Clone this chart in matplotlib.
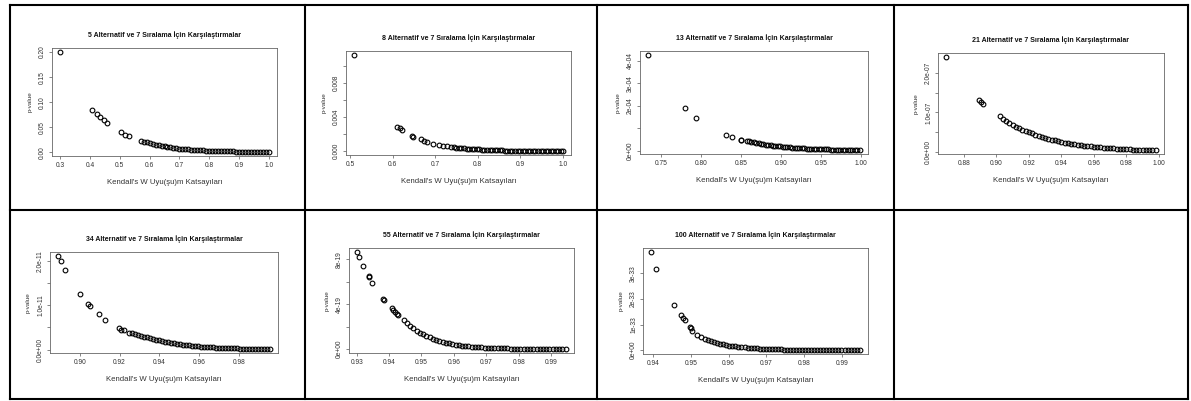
import matplotlib.pyplot as plt
from matplotlib.lines import Line2D

# Kendall's W vs p-value, 7 rankings, different numbers of alternatives
titles = ["5 Alternatif ve 7 Sıralama İçin Karşılaştırmalar",
          "8 Alternatif ve 7 Sıralama İçin Karşılaştırmalar",
          "13 Alternatif ve 7 Sıralama İçin Karşılaştırmalar",
          "21 Alternatif ve 7 Sıralama İçin Karşılaştırmalar",
          "34 Alternatif ve 7 Sıralama İçin Karşılaştırmalar",
          "55 Alternatif ve 7 Sıralama İçin Karşılaştırmalar",
          "100 Alternatif ve 7 Sıralama İçin Karşılaştırmalar"]
xlabel = "Kendall's W Uyu(şu)m Katsayıları"
ylabel = "p-value"

# n = 5
w5 = [0.300, 0.408, 0.424, 0.434, 0.447, 0.457, 0.503, 0.518, 0.531,
      0.57, 0.58, 0.59, 0.60, 0.61, 0.62, 0.63, 0.64, 0.65, 0.66, 0.67, 0.68, 0.69, 0.70,
      0.71, 0.72, 0.73, 0.74, 0.75, 0.76, 0.77, 0.78, 0.79, 0.80, 0.81, 0.82, 0.83, 0.84,
      0.85, 0.86, 0.87, 0.88, 0.89, 0.90, 0.91, 0.92, 0.93, 0.94, 0.95, 0.96, 0.97, 0.98,
      0.99, 1.00]
p5 = [0.200, 0.085, 0.076, 0.070, 0.064, 0.059, 0.040, 0.035, 0.032,
      0.0228, 0.0212, 0.0196, 0.0181, 0.0166, 0.0152, 0.0139, 0.0127, 0.0116, 0.0106,
      0.0097, 0.0089, 0.0081, 0.0074, 0.0068, 0.0062, 0.0057, 0.0052, 0.0048, 0.0044,
      0.0040, 0.0037, 0.0034, 0.0031, 0.0028, 0.0026, 0.0024, 0.0022, 0.0020, 0.0018,
      0.0017, 0.0015, 0.0014, 0.0013, 0.0012, 0.0011, 0.0010, 0.0009, 0.0008, 0.0008,
      0.0007, 0.0006, 0.0006, 0.0005]

# n = 8
w8 = [0.510, 0.611, 0.617, 0.623, 0.646, 0.649, 0.666, 0.675, 0.681, 0.694, 0.709, 0.719, 0.728,
      0.738, 0.744, 0.750, 0.756, 0.762, 0.768, 0.774, 0.780, 0.786, 0.792,
      0.798, 0.804, 0.810, 0.816, 0.822, 0.828, 0.834, 0.840, 0.846, 0.852,
      0.858, 0.864, 0.870, 0.876, 0.882, 0.888, 0.894, 0.900, 0.906, 0.912,
      0.918, 0.924, 0.930, 0.936, 0.942, 0.948, 0.954, 0.960, 0.966, 0.972,
      0.978, 0.984, 0.990, 0.996, 1.000]
p8 = [0.01127, 0.00284, 0.00272, 0.00248, 0.00177, 0.00170, 0.00138, 0.00122, 0.00110,
      0.00090, 0.00071, 0.00063, 0.00056,
      0.000520, 0.000478, 0.000439, 0.000404, 0.000371, 0.000341, 0.000313, 0.000288,
      0.000265, 0.000243, 0.000224, 0.000206, 0.000189, 0.000174, 0.000160, 0.000147,
      0.000135, 0.000124, 0.000114, 0.000105, 0.000096, 0.000088, 0.000081, 0.000075,
      0.000069, 0.000063, 0.000058, 0.000053, 0.000049, 0.000045, 0.000041, 0.000038,
      0.000035, 0.000032, 0.000030, 0.000027, 0.000025, 0.000023, 0.000021, 0.000019,
      0.000018, 0.000016, 0.000015, 0.000014, 0.000013]

# n = 13 (p in units of 1e-4)
w13 = [0.7345, 0.7798, 0.794, 0.831, 0.839, 0.850, 0.8505,
       0.857, 0.860, 0.863, 0.866, 0.869, 0.872, 0.875, 0.878, 0.881, 0.884, 0.887, 0.890,
       0.893, 0.896, 0.899, 0.902, 0.905, 0.908, 0.911, 0.914, 0.917, 0.920, 0.923, 0.926,
       0.929, 0.932, 0.935, 0.938, 0.941, 0.944, 0.947, 0.950, 0.953, 0.956, 0.959, 0.962,
       0.965, 0.968, 0.971, 0.974, 0.977, 0.980, 0.983, 0.986, 0.989, 0.992, 0.995, 0.998]
p13 = [4.27, 1.91, 1.48, 0.72, 0.63, 0.49, 0.50,
       0.450, 0.424, 0.399, 0.376, 0.354, 0.334, 0.314, 0.296, 0.279, 0.262, 0.247, 0.233,
       0.219, 0.206, 0.194, 0.183, 0.172, 0.162, 0.153, 0.144, 0.136, 0.128, 0.120, 0.113,
       0.107, 0.100, 0.095, 0.089, 0.084, 0.079, 0.074, 0.070, 0.066, 0.062, 0.059, 0.055,
       0.052, 0.049, 0.046, 0.043, 0.041, 0.038, 0.036, 0.034, 0.032, 0.030, 0.029, 0.027]

# n = 21 (p in units of 1e-7)
w21 = [0.8693, 0.8896, 0.8906, 0.8919,
       0.902, 0.904, 0.906, 0.908, 0.910, 0.912, 0.914, 0.916, 0.918, 0.920,
       0.922, 0.924, 0.926, 0.928, 0.930, 0.932, 0.934, 0.936, 0.938, 0.940,
       0.942, 0.944, 0.946, 0.948, 0.950, 0.952, 0.954, 0.956, 0.958, 0.960,
       0.962, 0.964, 0.966, 0.968, 0.970, 0.972, 0.974, 0.976, 0.978, 0.980,
       0.982, 0.984, 0.986, 0.988, 0.990, 0.992, 0.994, 0.996, 0.998]
p21 = [2.41, 1.32, 1.26, 1.22,
       0.91, 0.84, 0.79, 0.73, 0.68, 0.64, 0.60, 0.56, 0.53, 0.50,
       0.47, 0.44, 0.41, 0.385, 0.36, 0.34, 0.315, 0.295, 0.275, 0.255,
       0.240, 0.225, 0.210, 0.195, 0.182, 0.171, 0.160, 0.150, 0.140, 0.131,
       0.123, 0.116, 0.109, 0.102, 0.096, 0.090, 0.085, 0.080, 0.075, 0.070,
       0.066, 0.062, 0.059, 0.056, 0.053, 0.050, 0.048, 0.046, 0.044]

# n = 34 (p in units of 1e-11)
w34 = [0.8893, 0.8906, 0.8928, 0.9000, 0.9042, 0.9050, 0.9095, 0.9128, 0.9197, 0.9209, 0.9220,
       0.9250, 0.9265, 0.9280, 0.9295, 0.9310, 0.9325, 0.9340, 0.9355, 0.9370, 0.9385,
       0.9400, 0.9415, 0.9430, 0.9445, 0.9460, 0.9475, 0.9490, 0.9505, 0.9520, 0.9535,
       0.9550, 0.9565, 0.9580, 0.9595, 0.9610, 0.9625, 0.9640, 0.9655, 0.9670, 0.9685,
       0.9700, 0.9715, 0.9730, 0.9745, 0.9760, 0.9775, 0.9790, 0.9805, 0.9820, 0.9835,
       0.9850, 0.9865, 0.9880, 0.9895, 0.9910, 0.9925, 0.9940, 0.9954]
p34 = [2.11, 2.00, 1.80, 1.26, 1.03, 0.98, 0.79, 0.67, 0.48, 0.45, 0.43,
       0.380, 0.364, 0.348, 0.332, 0.310, 0.292, 0.275, 0.259, 0.240, 0.224,
       0.208, 0.193, 0.178, 0.164, 0.152, 0.140, 0.129, 0.119, 0.110, 0.102,
       0.095, 0.088, 0.082, 0.076, 0.070, 0.065, 0.060, 0.055, 0.051, 0.046,
       0.043, 0.040, 0.037, 0.034, 0.031, 0.029, 0.027, 0.025, 0.023, 0.021,
       0.019, 0.017, 0.015, 0.014, 0.012, 0.011, 0.009, 0.008]

# n = 55 (p in units of 1e-19)
w55 = [0.9302, 0.9308, 0.9320, 0.9337, 0.9339, 0.9348, 0.9382, 0.9383, 0.9408, 0.9413,
       0.9418, 0.9423, 0.9428,
       0.9445, 0.9455, 0.9465, 0.9475, 0.9485, 0.9495, 0.9505, 0.9515, 0.9525, 0.9535,
       0.9545, 0.9555, 0.9565, 0.9575, 0.9585, 0.9595, 0.9605, 0.9615, 0.9625, 0.9635,
       0.9645, 0.9655, 0.9665, 0.9675, 0.9685, 0.9695, 0.9705, 0.9715, 0.9725, 0.9735,
       0.9745, 0.9755, 0.9765, 0.9775, 0.9785, 0.9795, 0.9805, 0.9815, 0.9825, 0.9835,
       0.9845, 0.9855, 0.9865, 0.9875, 0.9885, 0.9895, 0.9905, 0.9915, 0.9925, 0.9935,
       0.9945]
p55 = [8.65, 8.20, 7.40, 6.50, 6.40, 5.90, 4.46, 4.40, 3.64, 3.50, 3.35, 3.17, 3.00,
       2.64, 2.35, 2.10, 1.87, 1.66, 1.48, 1.32, 1.18, 1.05, 0.93,
       0.83, 0.74, 0.66, 0.59, 0.52, 0.47, 0.42, 0.37, 0.33, 0.29,
       0.26, 0.23, 0.21, 0.19, 0.17, 0.15, 0.13, 0.12, 0.11, 0.097,
       0.087, 0.078, 0.070, 0.063, 0.057, 0.051, 0.046, 0.042, 0.038, 0.034,
       0.031, 0.028, 0.025, 0.023, 0.021, 0.019, 0.017, 0.015, 0.014, 0.013,
       0.012]

# n = 100 (p in units of 1e-33)
w100 = [0.9396, 0.9409, 0.9455, 0.9473, 0.9479, 0.9484, 0.9499, 0.9501, 0.9503, 0.9516, 0.9526,
        0.9538, 0.9546, 0.9554, 0.9562, 0.9570, 0.9578, 0.9586, 0.9594, 0.9602, 0.9610,
        0.9618, 0.9626, 0.9634, 0.9642, 0.9650, 0.9658, 0.9666, 0.9674, 0.9682, 0.9690,
        0.9698, 0.9706, 0.9714, 0.9722, 0.9730, 0.9738, 0.9746, 0.9754, 0.9762, 0.9770,
        0.9778, 0.9786, 0.9794, 0.9802, 0.9810, 0.9818, 0.9826, 0.9834, 0.9842, 0.9850,
        0.9858, 0.9866, 0.9874, 0.9882, 0.9890, 0.9898, 0.9906, 0.9914, 0.9922, 0.9930,
        0.9938, 0.9946]
p100 = [3.84, 3.18, 1.78, 1.36, 1.27, 1.16, 0.90, 0.87, 0.74, 0.61, 0.50,
        0.440, 0.393, 0.352, 0.315, 0.281, 0.251, 0.225, 0.201, 0.180, 0.161,
        0.144, 0.128, 0.115, 0.103, 0.092, 0.082, 0.073, 0.066, 0.059, 0.052,
        0.047, 0.042, 0.038, 0.034, 0.030, 0.027, 0.024, 0.022, 0.019, 0.017,
        0.016, 0.014, 0.013, 0.011, 0.010, 0.009, 0.008, 0.007, 0.007, 0.006,
        0.005, 0.005, 0.004, 0.004, 0.004, 0.003, 0.003, 0.003, 0.002, 0.002,
        0.002, 0.002]

# tick positions / labels
xticks = [[0.3, 0.4, 0.5, 0.6, 0.7, 0.8, 0.9, 1.0],
          [0.5, 0.6, 0.7, 0.8, 0.9, 1.0],
          [0.75, 0.80, 0.85, 0.90, 0.95, 1.00],
          [0.88, 0.90, 0.92, 0.94, 0.96, 0.98, 1.00],
          [0.90, 0.92, 0.94, 0.96, 0.98],
          [0.93, 0.94, 0.95, 0.96, 0.97, 0.98, 0.99],
          [0.94, 0.95, 0.96, 0.97, 0.98, 0.99]]
xticklabels = [["0.3", "0.4", "0.5", "0.6", "0.7", "0.8", "0.9", "1.0"],
               ["0.5", "0.6", "0.7", "0.8", "0.9", "1.0"],
               ["0.75", "0.80", "0.85", "0.90", "0.95", "1.00"],
               ["0.88", "0.90", "0.92", "0.94", "0.96", "0.98", "1.00"],
               ["0.90", "0.92", "0.94", "0.96", "0.98"],
               ["0.93", "0.94", "0.95", "0.96", "0.97", "0.98", "0.99"],
               ["0.94", "0.95", "0.96", "0.97", "0.98", "0.99"]]
yticks = [[0, 0.05, 0.10, 0.15, 0.20],
          [0, 0.002, 0.004, 0.006, 0.008, 0.010],
          [0, 1, 2, 3, 4],
          [0, 0.5, 1.0, 1.5, 2.0],
          [0, 0.5, 1.0, 1.5, 2.0],
          [0, 2, 4, 6, 8],
          [0, 1, 2, 3]]
yticklabels = [["0.00", "0.05", "0.10", "0.15", "0.20"],
               ["0.000", "", "0.004", "", "0.008", ""],
               ["0e+00", "", "2e-04", "3e-04", "4e-04"],
               ["0.0e+00", "", "1.0e-07", "", "2.0e-07"],
               ["0.0e+00", "", "1.0e-11", "", "2.0e-11"],
               ["0e+00", "", "4e-19", "", "8e-19"],
               ["0e+00", "1e-33", "2e-33", "3e-33"]]

series = [(w5, p5), (w8, p8), (w13, p13), (w21, p21), (w34, p34), (w55, p55), (w100, p100)]

# layout in pixels: axes box (left, top, right, bottom)
W, H = 1191, 401
boxes = [(52, 48, 277, 156), (346, 51, 571, 155), (640, 51, 868, 154), (938, 53, 1164, 154),
         (50, 252, 278, 353), (349, 248, 574, 353), (643, 248, 868, 354)]

plt.rcParams['font.family'] = ['Liberation Sans', 'DejaVu Sans']
fig = plt.figure(figsize=(W / 100, H / 100), dpi=100)

for i, (w, p) in enumerate(series):
    l, t, r, b = boxes[i]
    ax = fig.add_axes([l / W, 1 - b / H, (r - l) / W, (b - t) / H])
    ax.plot(w, p, 'o', ms=3.4, mfc='none', mec='black', mew=0.8, ls='none')

    # R-style 4% padding
    xr = max(w) - min(w)
    yr = max(p) - min(p)
    ax.set_xlim(min(w) - 0.04 * xr, max(w) + 0.04 * xr)
    ax.set_ylim(min(p) - 0.04 * yr, max(p) + 0.04 * yr)

    ax.set_xticks(xticks[i])
    ax.set_xticklabels(xticklabels[i])
    ax.set_yticks(yticks[i])
    ax.set_yticklabels(yticklabels[i], rotation=90, va='center')

    for s in ax.spines.values():
        s.set_color('#666666')
        s.set_linewidth(0.6)
    ax.tick_params(direction='out', length=2.2, width=0.5, color='#555555',
                   labelsize=4.8, labelcolor='#333333', pad=2)
    ax.set_title(titles[i], fontsize=5.0, fontweight='bold', pad=8, color='#111111')
    ax.set_xlabel(xlabel, fontsize=5.6, labelpad=7, color='#333333')
    ax.set_ylabel(ylabel, fontsize=4.6, labelpad=5, color='#333333')

# table grid around the panels
for x in [10, 305, 597, 894, 1188]:
    fig.add_artist(Line2D([x / W, x / W], [1 - 5 / H, 1 - 399 / H], color='black', lw=1.5))
for y in [5, 210, 399]:
    fig.add_artist(Line2D([10 / W, 1188 / W], [1 - y / H, 1 - y / H], color='black', lw=1.5))

fig.savefig('out.png', dpi=100)
